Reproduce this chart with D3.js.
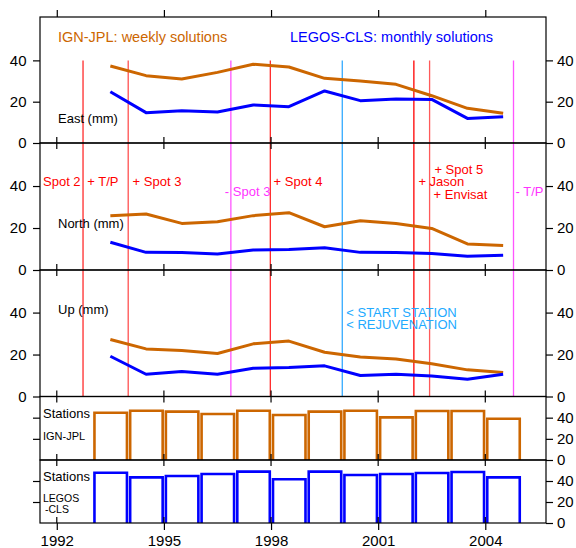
<!DOCTYPE html>
<html><head><meta charset="utf-8">
<script src="https://cdn.jsdelivr.net/npm/d3@7"></script>
<style>body{margin:0;background:#fff}svg{display:block}text{font-family:"Liberation Sans",Arial,Helvetica,sans-serif}</style>
</head><body><svg id="c" width="576" height="548"></svg>
<script>
// ---------------- DATA ----------------
const lineYears = [1993.5,1994.5,1995.5,1996.5,1997.5,1998.5,1999.5,2000.5,2001.5,2002.5,2003.5,2004.5];
const eastIGN   = [37.3,32.6,31.0,34.2,38.1,36.8,31.3,30.0,28.4,22.9,16.8,14.4];
const eastLEGOS = [24.8,14.7,15.6,15.0,18.4,17.6,25.2,20.5,21.3,21.1,11.9,12.7];
const northIGN  = [25.9,26.7,22.2,23.0,25.9,27.3,20.6,23.5,22.2,19.8,12.4,11.7];
const northLEGOS= [13.2,8.4,8.3,7.6,9.5,9.8,10.6,8.4,8.3,7.9,6.5,7.0];
const upIGN     = [27.2,22.7,21.9,20.5,25.1,26.4,21.1,18.8,17.9,15.6,12.7,11.4];
const upLEGOS   = [19.2,10.6,11.9,10.6,13.5,13.8,14.6,10.0,10.6,9.8,8.2,10.6];
const barYears  = [1993,1994,1995,1996,1997,1998,1999,2000,2001,2002,2003,2004];
const stationsIGN   = [44.7,46.6,45.7,43.5,46.6,42.5,45.7,46.6,40.3,46.3,46.3,39.0];
const stationsLEGOS = [47.9,43.5,44.8,46.7,48.9,41.6,48.9,45.7,46.7,47.6,48.6,43.5];
const xTickValues = [1992,1995,1998,2001,2004];
const xTickLabels = ["1992","1995","1998","2001","2004"];
const yTicksMain = [0,20,40];
const yTicksStations = [0,20,40];
const eventYears = [1992.735,1994.0,1996.875,1997.98,1999.995,2002.0,2002.44,2004.79];
const legendLabels = ["IGN-JPL: weekly solutions","LEGOS-CLS: monthly solutions"];
const panelLabels = ["East (mm)","North (mm)","Up (mm)"];
const annotationTexts = ["Spot 2","+ T/P","+ Spot 3","- Spot 3","+ Spot 4","+ Jason","+ Spot 5","+ Envisat","- T/P","< START STATION","< REJUVENATION"];

// ---------------- LAYOUT / STYLE ----------------
const ORANGE = "#cc6600", BLUE = "#0000ff";
const eventColors = ["#ff2a2a","#ff5050","#ff55ff","#ff2a2a","#33aaff","#ff0000","#ff5a5a","#ff55ff"];
const svg = d3.select("#c");
const x = d3.scaleLinear().domain([1991.53, 2005.7]).range([40, 546]);
const L = 40, R = 546;
const panels = [
  {top:17, bottom:143, max:61},
  {top:143, bottom:270, max:60.5},
  {top:270, bottom:396.5, max:60.3},
  {top:396.5, bottom:460, max:60},
  {top:460, bottom:523, max:60}
];
panels.forEach(p => p.y = d3.scaleLinear().domain([0, p.max]).range([p.bottom, p.top]));

// event lines (behind data)
const evTop = panels[0].y(40), evBottom = panels[2].bottom;
svg.append("g").selectAll("line").data(eventYears).join("line")
  .attr("x1", d => x(d)).attr("x2", d => x(d))
  .attr("y1", evTop).attr("y2", evBottom)
  .attr("stroke", (d,i) => eventColors[i]).attr("stroke-width", 1.3);

// data lines
const series = [[eastIGN,eastLEGOS],[northIGN,northLEGOS],[upIGN,upLEGOS]];
series.forEach((pair, pi) => {
  const y = panels[pi].y;
  const line = d3.line().x((d,i) => x(lineYears[i])).y(d => y(d));
  svg.append("path").datum(pair[0]).attr("d", line).attr("fill","none")
    .attr("stroke", ORANGE).attr("stroke-width", 3).attr("stroke-linejoin","round");
  svg.append("path").datum(pair[1]).attr("d", line).attr("fill","none")
    .attr("stroke", BLUE).attr("stroke-width", 3).attr("stroke-linejoin","round");
});

// bars
[[stationsIGN, ORANGE, 3],[stationsLEGOS, BLUE, 4]].forEach(([vals, col, pi]) => {
  const y = panels[pi].y;
  svg.append("g").selectAll("path").data(vals).join("path")
    .attr("d", (d,i) => {
      const x0 = x(barYears[i] + 0.055), x1 = x(barYears[i] + 0.965);
      return `M${x0},${y(0)}V${y(d)}H${x1}V${y(0)}`;
    })
    .attr("fill","none").attr("stroke", col).attr("stroke-width", 2.6);
});

// frames
panels.forEach(p => {
  svg.append("rect").attr("x", L).attr("y", p.top).attr("width", R-L).attr("height", p.bottom-p.top)
    .attr("fill","none").attr("stroke","#000").attr("stroke-width",1.2);
});

// y axes
const fontTick = "15px";
panels.forEach((p, pi) => {
  const main = pi < 3;
  const gl = svg.append("g").attr("transform",`translate(${L},0)`)
    .call(d3.axisLeft(p.y).tickValues(main ? yTicksMain : [20,40]).tickSize(7).tickPadding(6.5)
      .tickFormat(main ? d3.format("d") : () => ""));
  const gr = svg.append("g").attr("transform",`translate(${R},0)`)
    .call(d3.axisRight(p.y).tickValues(main ? yTicksMain : yTicksStations).tickSize(7).tickPadding(4)
      .tickFormat(d3.format("d")));
  [gl, gr].forEach(g => {
    g.select(".domain").remove();
    g.selectAll("line").attr("stroke-width",1.2);
    g.selectAll("text").attr("font-size", fontTick).attr("font-family",'"Liberation Sans",Arial,sans-serif').attr("fill","#000");
  });
});

// x axes
const gt = svg.append("g").attr("transform",`translate(0,${panels[0].top})`)
  .call(d3.axisTop(x).tickValues(xTickValues).tickSize(7).tickFormat(""));
const gb = svg.append("g").attr("transform",`translate(0,${panels[4].bottom})`)
  .call(d3.axisBottom(x).tickValues(xTickValues).tickSize(7).tickPadding(5.3)
    .tickFormat((d,i) => xTickLabels[i]));
[gt, gb].forEach(g => {
  g.select(".domain").remove();
  g.selectAll("line").attr("stroke-width",1.2);
  g.selectAll("text").attr("font-size", fontTick).attr("font-family",'"Liberation Sans",Arial,sans-serif').attr("fill","#000");
});
// inner ticks at panel boundaries
const boundaries = [panels[0].bottom, panels[1].bottom, panels[2].bottom, panels[3].bottom];
boundaries.forEach(by => {
  svg.append("g").selectAll("line").data(xTickValues).join("line")
    .attr("x1", d => x(d)).attr("x2", d => x(d)).attr("y1", by-6).attr("y2", by+6)
    .attr("stroke","#000").attr("stroke-width",1.2);
});
svg.append("g").selectAll("line").data(xTickValues).join("line")
  .attr("x1", d => x(d)).attr("x2", d => x(d)).attr("y1", panels[4].bottom-6).attr("y2", panels[4].bottom)
  .attr("stroke","#000").attr("stroke-width",1.2);

// legend
svg.append("text").attr("x", 58).attr("y", 42).attr("font-size","14.5px").attr("fill",ORANGE).text(legendLabels[0]);
svg.append("text").attr("x", 290).attr("y", 42).attr("font-size","14.5px").attr("fill",BLUE).text(legendLabels[1]);

// panel labels
const plY = [122.5, 227.5, 313.5];
panelLabels.forEach((t,i) => svg.append("text").attr("x",58).attr("y",plY[i]).attr("font-size","13px").attr("fill","#000").text(t));
svg.append("text").attr("x",43).attr("y",417.5).attr("font-size","13px").text("Stations");
svg.append("text").attr("x",43).attr("y",439.5).attr("font-size","11px").text("IGN-JPL");
svg.append("text").attr("x",43).attr("y",481).attr("font-size","13px").text("Stations");
svg.append("text").attr("x",43).attr("y",501.8).attr("font-size","10.5px").text("LEGOS");
svg.append("text").attr("x",45).attr("y",512.5).attr("font-size","10.5px").text("-CLS");

// annotations: [text index, event index, dx, baseline, color]
const annLayout = [
  [0, null, 43, 186, "#ff0000"],
  [1, 0, 4.3, 186, "#ff0000"],
  [2, 1, 4.4, 186, "#ff0000"],
  [3, 2, -6, 196.3, "#ff33ff"],
  [4, 3, 3.3, 186, "#ff0000"],
  [5, 5, 4.5, 186.3, "#ff0000"],
  [6, 6, 4.8, 173.6, "#ff0000"],
  [7, 6, 4.0, 198.8, "#ff0000"],
  [8, 7, 2.0, 196.3, "#ff33ff"],
  [9, 4, 4.0, 316.8, "#22aaff"],
  [10, 4, 4.0, 328.9, "#22aaff"]
];
annLayout.forEach(([ti, ei, dx, by, col]) => {
  const ax = ei === null ? dx : x(eventYears[ei]) + dx;
  svg.append("text").attr("x", ax).attr("y", by).attr("font-size","13px").attr("fill", col).text(annotationTexts[ti]);
});
</script></body></html>
